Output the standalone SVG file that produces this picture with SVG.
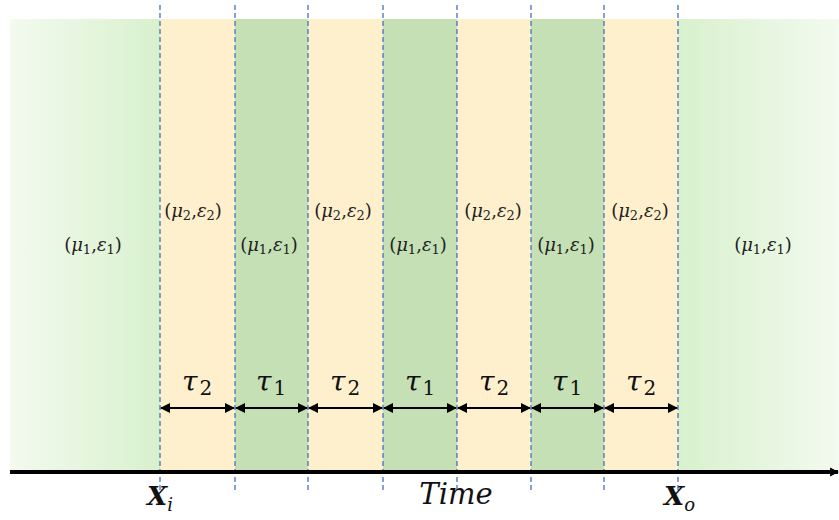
<svg xmlns="http://www.w3.org/2000/svg" width="839" height="520" viewBox="0 0 839 520">
<defs>
<linearGradient id="gl" x1="0" y1="0" x2="1" y2="0">
<stop offset="0" stop-color="#F3FAEF"/>
<stop offset="1" stop-color="#D8F1CD"/>
</linearGradient>
<linearGradient id="gr" x1="0" y1="0" x2="1" y2="0">
<stop offset="0" stop-color="#D8F1CD"/>
<stop offset="1" stop-color="#F3FAEF"/>
</linearGradient>
<marker id="ah" viewBox="0 0 10 10" refX="9" refY="5" markerWidth="5" markerHeight="5" orient="auto-start-reverse" markerUnits="strokeWidth">
<path d="M0,0 L10,5 L0,10 z" fill="#000"/>
</marker>
<marker id="axh" viewBox="0 0 10 10" refX="9" refY="5" markerWidth="2.2" markerHeight="3" orient="auto" markerUnits="strokeWidth">
<path d="M0,0 L10,5 L0,10 z" fill="#000"/>
</marker>
</defs>
<style>
.or{fill:#FFF0CD}
.gn{fill:#C5E0B4}
.dash{stroke:#4472C4;stroke-width:1.3;stroke-dasharray:5,3;fill:none}
.lab{font-family:"DejaVu Serif","Liberation Serif",serif;font-size:18px;fill:#222;text-anchor:middle}
.tau{font-family:"DejaVu Serif","Liberation Serif",serif;font-size:28px;fill:#111;text-anchor:middle}
.it{font-style:italic}
.dim{stroke:#000;stroke-width:2;fill:none;marker-start:url(#ah);marker-end:url(#ah)}
</style>
<g id="bands">
<rect id="region-left" x="10" y="19" width="150" height="451" fill="url(#gl)"/>
<rect id="band1" class="or" x="160" y="19" width="75" height="451"/>
<rect id="band2" class="gn" x="235" y="19" width="73" height="451"/>
<rect id="band3" class="or" x="308" y="19" width="75" height="451"/>
<rect id="band4" class="gn" x="383" y="19" width="74" height="451"/>
<rect id="band5" class="or" x="457" y="19" width="74" height="451"/>
<rect id="band6" class="gn" x="531" y="19" width="73" height="451"/>
<rect id="band7" class="or" x="604" y="19" width="74" height="451"/>
<rect id="region-right" x="678" y="19" width="161" height="451" fill="url(#gr)"/>
</g>
<g id="labels">
<text class="lab" x="93" y="251">(<tspan class="it">μ</tspan><tspan font-size="13" dy="3">1</tspan><tspan dy="-3">,</tspan><tspan class="it">ε</tspan><tspan font-size="13" dy="3">1</tspan><tspan dy="-3">)</tspan></text>
<text class="lab" x="193" y="217">(<tspan class="it">μ</tspan><tspan font-size="13" dy="3">2</tspan><tspan dy="-3">,</tspan><tspan class="it">ε</tspan><tspan font-size="13" dy="3">2</tspan><tspan dy="-3">)</tspan></text>
<text class="lab" x="269" y="251">(<tspan class="it">μ</tspan><tspan font-size="13" dy="3">1</tspan><tspan dy="-3">,</tspan><tspan class="it">ε</tspan><tspan font-size="13" dy="3">1</tspan><tspan dy="-3">)</tspan></text>
<text class="lab" x="343" y="217">(<tspan class="it">μ</tspan><tspan font-size="13" dy="3">2</tspan><tspan dy="-3">,</tspan><tspan class="it">ε</tspan><tspan font-size="13" dy="3">2</tspan><tspan dy="-3">)</tspan></text>
<text class="lab" x="418" y="251">(<tspan class="it">μ</tspan><tspan font-size="13" dy="3">1</tspan><tspan dy="-3">,</tspan><tspan class="it">ε</tspan><tspan font-size="13" dy="3">1</tspan><tspan dy="-3">)</tspan></text>
<text class="lab" x="493" y="217">(<tspan class="it">μ</tspan><tspan font-size="13" dy="3">2</tspan><tspan dy="-3">,</tspan><tspan class="it">ε</tspan><tspan font-size="13" dy="3">2</tspan><tspan dy="-3">)</tspan></text>
<text class="lab" x="566" y="251">(<tspan class="it">μ</tspan><tspan font-size="13" dy="3">1</tspan><tspan dy="-3">,</tspan><tspan class="it">ε</tspan><tspan font-size="13" dy="3">1</tspan><tspan dy="-3">)</tspan></text>
<text class="lab" x="640" y="217">(<tspan class="it">μ</tspan><tspan font-size="13" dy="3">2</tspan><tspan dy="-3">,</tspan><tspan class="it">ε</tspan><tspan font-size="13" dy="3">2</tspan><tspan dy="-3">)</tspan></text>
<text class="lab" x="763" y="251">(<tspan class="it">μ</tspan><tspan font-size="13" dy="3">1</tspan><tspan dy="-3">,</tspan><tspan class="it">ε</tspan><tspan font-size="13" dy="3">1</tspan><tspan dy="-3">)</tspan></text>
</g>
<g id="durations">
<text class="tau" x="197" y="391"><tspan class="it">τ</tspan><tspan font-size="20" dx="2" dy="4">2</tspan></text>
<text class="tau" x="271" y="391"><tspan class="it">τ</tspan><tspan font-size="20" dx="2" dy="4">1</tspan></text>
<text class="tau" x="345" y="391"><tspan class="it">τ</tspan><tspan font-size="20" dx="2" dy="4">2</tspan></text>
<text class="tau" x="420" y="391"><tspan class="it">τ</tspan><tspan font-size="20" dx="2" dy="4">1</tspan></text>
<text class="tau" x="494" y="391"><tspan class="it">τ</tspan><tspan font-size="20" dx="2" dy="4">2</tspan></text>
<text class="tau" x="567" y="391"><tspan class="it">τ</tspan><tspan font-size="20" dx="2" dy="4">1</tspan></text>
<text class="tau" x="641" y="391"><tspan class="it">τ</tspan><tspan font-size="20" dx="2" dy="4">2</tspan></text>
</g>
<g id="connectors">
<line class="dash" x1="160" y1="5" x2="160" y2="492"/>
<line class="dash" x1="235" y1="5" x2="235" y2="492"/>
<line class="dash" x1="308" y1="5" x2="308" y2="492"/>
<line class="dash" x1="383" y1="5" x2="383" y2="492"/>
<line class="dash" x1="457" y1="5" x2="457" y2="492"/>
<line class="dash" x1="531" y1="5" x2="531" y2="492"/>
<line class="dash" x1="604" y1="5" x2="604" y2="492"/>
<line class="dash" x1="678" y1="5" x2="678" y2="492"/>
<line class="dim" x1="161" y1="408" x2="234" y2="408"/>
<line class="dim" x1="236" y1="408" x2="307" y2="408"/>
<line class="dim" x1="309" y1="408" x2="382" y2="408"/>
<line class="dim" x1="384" y1="408" x2="456" y2="408"/>
<line class="dim" x1="458" y1="408" x2="530" y2="408"/>
<line class="dim" x1="532" y1="408" x2="603" y2="408"/>
<line class="dim" x1="605" y1="408" x2="677" y2="408"/>
<line x1="10" y1="472" x2="838" y2="472" stroke="#000" stroke-width="4" marker-end="url(#axh)"/>
</g>
<g id="axis-labels">
<text x="147" y="505" font-family="DejaVu Serif,serif" font-size="26" font-weight="bold" font-style="italic" fill="#111">X<tspan font-size="18" font-weight="normal" dy="6">i</tspan></text>
<text x="456" y="504" font-family="DejaVu Serif,serif" font-size="29" font-style="italic" fill="#111" text-anchor="middle">Time</text>
<text x="664" y="505" font-family="DejaVu Serif,serif" font-size="26" font-weight="bold" font-style="italic" fill="#111">X<tspan font-size="18" font-weight="normal" dy="6">o</tspan></text>
</g>
</svg>
